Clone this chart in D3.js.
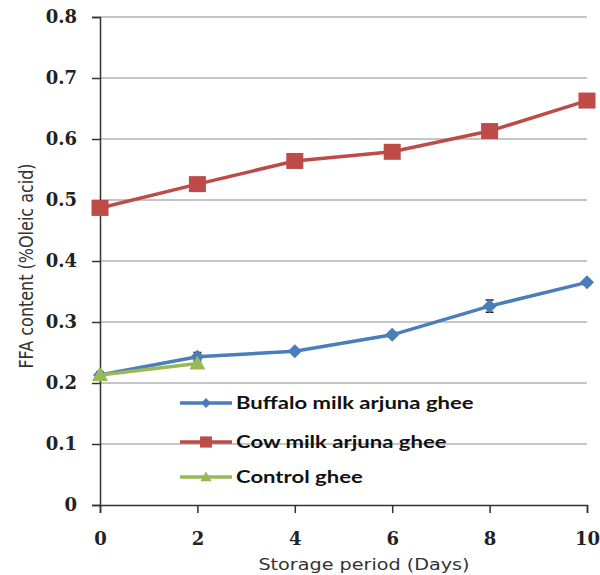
<!DOCTYPE html>
<html><head><meta charset="utf-8">
<script src="https://cdn.jsdelivr.net/npm/d3@7"></script>
<style>body{margin:0;background:#fff}</style>
</head><body>
<svg id="c" width="600" height="575"></svg>
<script>
const days = [0, 2, 4, 6, 8, 10];
const buffalo = [0.213, 0.243, 0.252, 0.279, 0.326, 0.365];
const buffaloErr = [0.005, 0.007, 0.003, 0.004, 0.010, 0.004];
const cow = [0.487, 0.526, 0.564, 0.579, 0.613, 0.663];
const controlDays = [0, 2];
const control = [0.213, 0.232];
const yTicks = [0, 0.1, 0.2, 0.3, 0.4, 0.5, 0.6, 0.7, 0.8];
const xTicks = [0, 2, 4, 6, 8, 10];
const seriesNames = ["Buffalo milk arjuna ghee", "Cow milk arjuna ghee", "Control ghee"];

const svg = d3.select("#c");
const x = d3.scaleLinear().domain([0, 10]).range([100, 587]);
const y = d3.scaleLinear().domain([0, 0.8]).range([505, 17]);

// gridlines
svg.append("g").selectAll("line").data(yTicks.filter(d => d > 0)).join("line")
  .attr("x1", x(0)).attr("x2", x(10)).attr("y1", d => y(d)).attr("y2", d => y(d))
  .attr("stroke", "#8c8c8c").attr("stroke-width", 1.2);

// y axis
const yAxis = svg.append("g").attr("transform", `translate(${x(0)},0)`)
  .call(d3.axisLeft(y).tickValues(yTicks).tickSize(8).tickPadding(15).tickFormat(d => d === 0 ? "0" : d3.format(".1f")(d)));
yAxis.select(".domain").attr("stroke", "#333").attr("stroke-width", 1.5);
yAxis.selectAll(".tick line").attr("stroke", "#333").attr("stroke-width", 1.5);
yAxis.selectAll("text").attr("font-family", "DejaVu Serif").attr("font-weight", "bold")
  .attr("font-size", 18).attr("fill", "#222");

// x axis
const xAxis = svg.append("g").attr("transform", `translate(0,${y(0)})`)
  .call(d3.axisBottom(x).tickValues(xTicks).tickSize(8).tickPadding(19).tickFormat(d3.format("d")));
xAxis.select(".domain").attr("stroke", "#333").attr("stroke-width", 1.5);
xAxis.selectAll(".tick line").attr("stroke", "#333").attr("stroke-width", 1.5);
xAxis.selectAll("text").attr("font-family", "DejaVu Serif").attr("font-weight", "bold")
  .attr("font-size", 18).attr("fill", "#222");

// titles (horizontally stretched like the source image)
svg.append("text").attr("transform", "translate(364,570) scale(1.2,1)").attr("text-anchor", "middle")
  .attr("font-family", "DejaVu Sans").attr("font-size", 16).attr("fill", "#333")
  .text("Storage period (Days)");
svg.append("text").attr("transform", "translate(33,266) rotate(-90) scale(1,1.2)").attr("text-anchor", "middle")
  .attr("font-family", "DejaVu Sans").attr("font-size", 16).attr("fill", "#333")
  .text("FFA content (%Oleic acid)");

const colors = ["#4a7ebb", "#be4b48", "#98b954"];
const line = d3.line().x(d => x(d[0])).y(d => y(d[1]));

function drawMarker(g, type, cx, cy, color, s) {
  s = s || 1;
  if (type === "diamond") {
    g.append("path").attr("d", `M${cx},${cy-7*s}L${cx+7*s},${cy}L${cx},${cy+7*s}L${cx-7*s},${cy}Z`).attr("fill", color);
  } else if (type === "square") {
    g.append("rect").attr("x", cx - 8.5*s).attr("y", cy - 8*s).attr("width", 17*s).attr("height", 16*s).attr("fill", color);
  } else {
    g.append("path").attr("d", `M${cx},${cy-8*s}L${cx+8*s},${cy+6*s}L${cx-8*s},${cy+6*s}Z`).attr("fill", color);
  }
}

// cow series
const cowData = days.map((d, i) => [d, cow[i]]);
svg.append("path").datum(cowData).attr("d", line).attr("fill", "none").attr("stroke", colors[1]).attr("stroke-width", 3.5);
const gc = svg.append("g");
cowData.forEach(d => drawMarker(gc, "square", x(d[0]), y(d[1]), colors[1]));

// buffalo series
const bufData = days.map((d, i) => [d, buffalo[i], buffaloErr[i]]);
svg.append("path").datum(bufData).attr("d", line).attr("fill", "none").attr("stroke", colors[0]).attr("stroke-width", 3.5);
const gb = svg.append("g");
bufData.forEach(d => {
  const cx = x(d[0]);
  gb.append("line").attr("x1", cx).attr("x2", cx).attr("y1", y(d[1] + d[2])).attr("y2", y(d[1] - d[2])).attr("stroke", "#222").attr("stroke-width", 1.5);
  [d[1] + d[2], d[1] - d[2]].forEach(v => gb.append("line").attr("x1", cx - 4).attr("x2", cx + 4).attr("y1", y(v)).attr("y2", y(v)).attr("stroke", "#222").attr("stroke-width", 1.5));
  drawMarker(gb, "diamond", cx, y(d[1]), colors[0]);
});

// control series
const ctlData = controlDays.map((d, i) => [d, control[i]]);
svg.append("path").datum(ctlData).attr("d", line).attr("fill", "none").attr("stroke", colors[2]).attr("stroke-width", 3.5);
const gt = svg.append("g");
ctlData.forEach(d => drawMarker(gt, "triangle", x(d[0]), y(d[1]), colors[2]));

// legend
const types = ["diamond", "square", "triangle"];
const legY = [403, 442, 477];
seriesNames.forEach((name, i) => {
  const g = svg.append("g");
  g.append("line").attr("x1", 180).attr("x2", 232).attr("y1", legY[i]).attr("y2", legY[i]).attr("stroke", colors[i]).attr("stroke-width", 3.5);
  drawMarker(g, types[i], 206, legY[i], colors[i], 0.7);
  g.append("text").attr("transform", `translate(236,${legY[i] + 6}) scale(1.3,1)`)
    .attr("font-family", "Lato").attr("font-weight", "bold")
    .attr("font-size", 17).attr("fill", "#111").text(name);
});
</script>
</body></html>
